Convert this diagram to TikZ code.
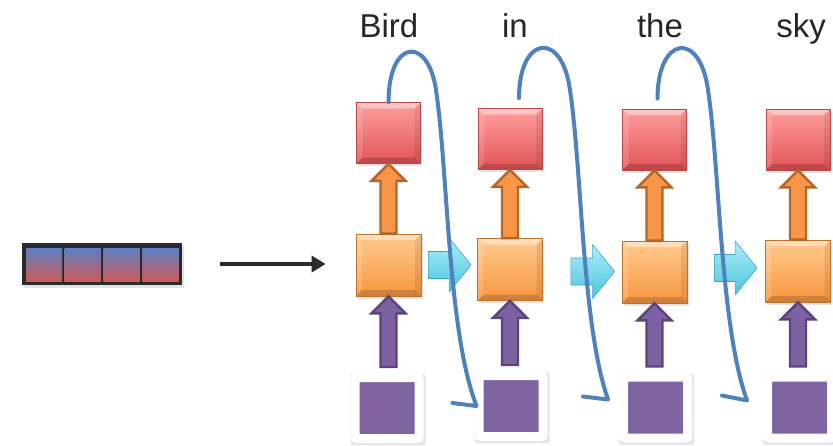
\documentclass[tikz,border=0pt]{standalone}
\usepackage{fontspec}
\setmainfont{Liberation Sans}
\definecolor{cellblue}{RGB}{91, 128, 196}
\definecolor{cellred}{RGB}{205, 90, 90}
\definecolor{vecdark}{RGB}{43, 43, 43}
\definecolor{outtop}{RGB}{255, 158, 158}
\definecolor{outbot}{RGB}{226, 84, 86}
\definecolor{outedge}{RGB}{180, 72, 70}
\definecolor{hidtop}{RGB}{255, 202, 142}
\definecolor{hidbot}{RGB}{248, 150, 64}
\definecolor{hidedge}{RGB}{190, 115, 45}
\definecolor{uporange}{RGB}{247, 150, 70}
\definecolor{uporangeedge}{RGB}{181, 101, 42}
\definecolor{inpurple}{RGB}{128, 100, 162}
\definecolor{uppurple}{RGB}{126, 97, 163}
\definecolor{uppurpleedge}{RGB}{91, 68, 120}
\definecolor{cyantop}{RGB}{172, 238, 248}
\definecolor{cyanbot}{RGB}{75, 196, 220}
\definecolor{cyanedge}{RGB}{60, 165, 190}
\definecolor{wordblue}{RGB}{79, 129, 189}
\definecolor{wordtext}{RGB}{38, 38, 38}
\usetikzlibrary{arrows.meta, positioning, calc, shadows}

\begin{document}
\begin{tikzpicture}[x=1pt, y=-1pt,
        softshadow/.style={drop shadow={opacity=0.22, shadow xshift=1.5pt, shadow yshift=-2.5pt}},
        bevel/.style={path picture={
            \fill[white, opacity=0.4] (path picture bounding box.north west) -- (path picture bounding box.north east) -- ([shift={(-6pt,-6pt)}]path picture bounding box.north east) -- ([shift={(6pt,-6pt)}]path picture bounding box.north west) -- cycle;
            \fill[white, opacity=0.15] (path picture bounding box.north west) -- ([shift={(6pt,-6pt)}]path picture bounding box.north west) -- ([shift={(6pt,6pt)}]path picture bounding box.south west) -- (path picture bounding box.south west) -- cycle;
            \fill[black, opacity=0.08] (path picture bounding box.north east) -- ([shift={(-6pt,-6pt)}]path picture bounding box.north east) -- ([shift={(-6pt,6pt)}]path picture bounding box.south east) -- (path picture bounding box.south east) -- cycle;
            \fill[black, opacity=0.16] (path picture bounding box.south west) -- ([shift={(6pt,6pt)}]path picture bounding box.south west) -- ([shift={(-6pt,6pt)}]path picture bounding box.south east) -- (path picture bounding box.south east) -- cycle;
          }},
        vecbox/.style={fill=vecdark, minimum width=160pt, minimum height=42pt, inner sep=0pt, softshadow},
        cell/.style={top color=cellblue, bottom color=cellred, minimum width=36pt, minimum height=33pt, inner sep=0pt},
        output/.style={top color=outtop, bottom color=outbot, draw=outedge, line width=0.8pt, minimum width=64pt, minimum height=61pt, inner sep=0pt, bevel, softshadow},
        hidden/.style={top color=hidtop, bottom color=hidbot, draw=hidedge, line width=0.8pt, minimum width=65pt, minimum height=62pt, inner sep=0pt, bevel, softshadow},
        input/.style={fill=inpurple, draw=white, line width=9pt, rounded corners=2pt, minimum width=64pt, minimum height=61pt, inner sep=0pt,
            drop shadow={opacity=0.2, shadow scale=1.17, shadow xshift=1pt, shadow yshift=-1.5pt}},
        block/.style n args={3}{to path={
            ($(\tikztostart)!#1!-90:(\tikztotarget)$)
            -- ($(\tikztotarget)!#3!(\tikztostart)!#1!-90:(\tikztotarget)$)
            -- ($(\tikztotarget)!#3!(\tikztostart)!#2!-90:(\tikztotarget)$)
            -- (\tikztotarget)
            -- ($(\tikztotarget)!#3!(\tikztostart)!#2!90:(\tikztotarget)$)
            -- ($(\tikztotarget)!#3!(\tikztostart)!#1!90:(\tikztotarget)$)
            -- ($(\tikztostart)!#1!90:(\tikztotarget)$)
            -- cycle}},
        toout/.style={fill=uporange, draw=uporangeedge, line width=2.4pt, block={8pt}{17pt}{17pt}},
        tohidden/.style={fill=uppurple, draw=uppurpleedge, line width=2.4pt, block={8pt}{17pt}{17pt}},
        recur/.style={top color=cyantop, bottom color=cyanbot, draw=cyanedge, line width=0.6pt, block={13.5pt}{27pt}{22pt}},
        feed/.style={draw=vecdark, line width=4.5pt, -{Triangle[length=14pt, width=16pt]}},
        unroll/.style={draw=wordblue, line width=4pt, line cap=round, line join=round},
        word/.style={font=\fontsize{33}{36}\selectfont, text=wordtext, anchor=base, inner sep=0pt},
      ]
      \useasboundingbox (0,0) rectangle (833,445);

      % encoded sentence vector
      \node[vecbox] (vec) at (102,264) {};
      \node[cell] (c1) at (44,264.5) {};
      \node[cell] (c2) at (82.5,264.5) {};
      \node[cell] (c3) at (121.5,264.5) {};
      \node[cell] (c4) at (160.5,264.5) {};

      % unrolled decoder
      \node[output] (r1) at (388.5,133) {};
      \node[output] (r2) at (510,139) {};
      \node[output] (r3) at (654.5,139.5) {};
      \node[output] (r4) at (798,139.5) {};
      \node[hidden] (o1) at (388.5,265) {};
      \node[hidden] (o2) at (510,269.5) {};
      \node[hidden] (o3) at (654.5,272) {};
      \node[hidden] (o4) at (798,271) {};
      \node[input] (p1) at (387,408) {};
      \node[input] (p2) at (511,406) {};
      \node[input] (p3) at (655.5,407.5) {};
      \node[input] (p4) at (799.5,407.5) {};

      \draw[feed] ([xshift=38pt]vec.east) -- ([xshift=-30pt]o1.west |- vec.east);

      \path[toout] (o1.north) to (r1.south);
      \path[toout] (o2.north) to (r2.south);
      \path[toout] (o3.north) to (r3.south);
      \path[toout] (o4.north) to (r4.south);
      \path[tohidden] ([yshift=6pt]p1.north -| o1.south) to (o1.south);
      \path[tohidden] ([yshift=6pt]p2.north -| o2.south) to (o2.south);
      \path[tohidden] ([yshift=6pt]p3.north -| o3.south) to (o3.south);
      \path[tohidden] ([yshift=6pt]p4.north -| o4.south) to (o4.south);
      \path[recur] ([xshift=7pt]o1.east) to ([xshift=-6pt]o2.west |- o1.east);
      \path[recur] ([xshift=28pt,yshift=-2pt]o2.east) to ([xshift=-7pt,yshift=-2pt]o3.west |- o2.east);
      \path[recur] ([xshift=27pt,yshift=4pt]o3.east) to ([xshift=-8pt,yshift=4pt]o4.west |- o3.east);

      % each word is fed back as the next input
      \draw[unroll] (r1.north) .. controls +(0,-63) and +(-8,-55) .. (436,90)
        .. controls +(12,80) and +(-29,-75) .. ([xshift=2pt]p2.west) -- ++(-24,-3);
      \draw[unroll] ([shift={(9pt,10pt)}]r2.north) .. controls +(0,-63) and +(-8,-60) .. (570,90)
        .. controls +(12,80) and +(-26,-74) .. ([shift={(-11pt,8pt)}]p3.west) -- ++(-25,-3);
      \draw[unroll] ([shift={(3pt,10pt)}]r3.north) .. controls +(0,-63) and +(-8,-60) .. (708,90)
        .. controls +(12,80) and +(-27,-75) .. ([shift={(-16pt,7pt)}]p4.west) -- ++(-25,-5);

      \node[word] (w1) at (389,37) {Bird};
      \node[word] (w2) at (515,37) {in};
      \node[word] (w3) at (660,37) {the};
      \node[word] (w4) at (801,37) {sky};
      \end{tikzpicture}
\end{document}
